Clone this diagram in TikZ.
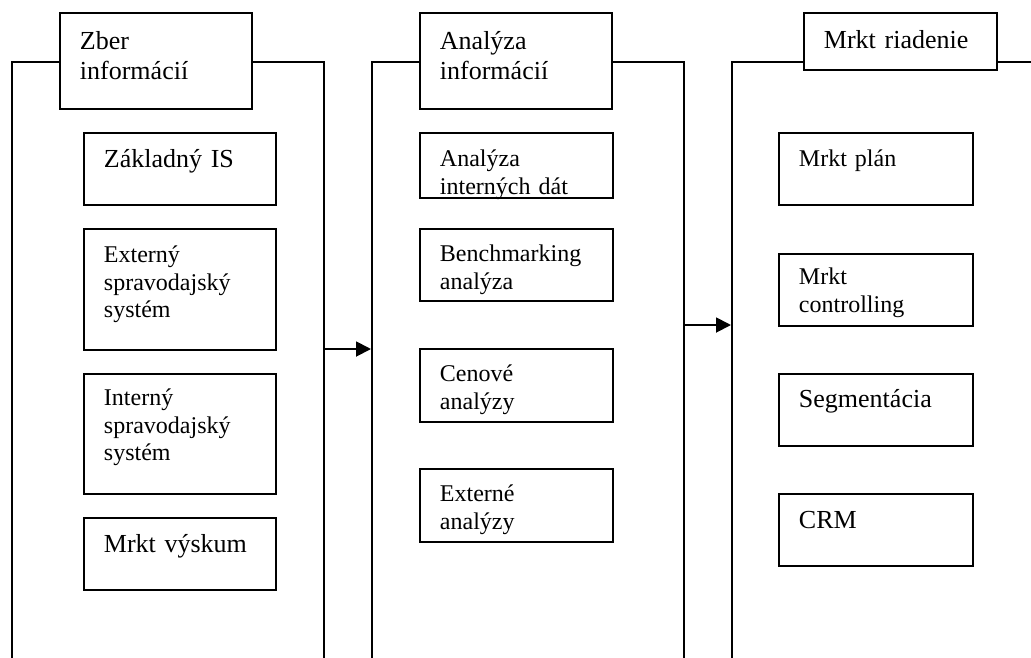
\documentclass[tikz,border=0pt]{standalone}
\usepackage{fontspec}
\setmainfont{Liberation Serif}
\usetikzlibrary{arrows.meta}

\newcommand\bigtxt{\fontsize{26}{30}\selectfont}
\newcommand\smtxt{\fontsize{24}{27.5}\selectfont}

\begin{document}
\begin{tikzpicture}[
  x = 1pt, y = -1pt,
  every node/.style = {line width = 1.9pt},
  frame/.style = {draw, anchor = north west, minimum width = 312pt, minimum height = 700pt, inner sep = 0pt},
  box/.style = {draw, fill = white, anchor = north west, inner xsep = 20pt, inner ysep = 0pt, align = left},
  cell/.style n args = {3}{text width = #1, text height = #2, text depth = #3},
  flow/.style = {draw, line width = 1.9pt, -{Triangle[length = 15pt, width = 15pt]}},
  ]
  \useasboundingbox (0,0) rectangle (1031,657);
  \clip (0,0) rectangle (1031,657);

  % three stages
  \node [frame] (fr1) at (11,61)  {};
  \node [frame] (fr2) at (371,61) {};
  \node [frame, minimum width = 400pt] (fr3) at (731,61) {};

  \node [box, cell = {152pt}{37pt}{59pt}, font = \bigtxt] (zber) at (59,12)  {Zber\\informácií};
  \node [box, cell = {152pt}{37pt}{59pt}, font = \bigtxt] (anal) at (419,12) {Analýza\\informácií};
  \node [box, cell = {153pt}{36pt}{21pt}, font = \bigtxt] (riad) at (803,12) {Mrkt riadenie};

  % collecting
  \node [box, cell = {152pt}{35pt}{37pt}, font = \bigtxt] (zis) at (83,132) {Základný IS};
  \node [box, cell = {152pt}{34pt}{87pt}, font = \smtxt]  (ess) at (83,228) {Externý\\spravodajský\\systém};
  \node [box, cell = {152pt}{32pt}{88pt}, font = \smtxt]  (iss) at (83,373) {Interný\\spravodajský\\systém};
  \node [box, cell = {152pt}{35pt}{37pt}, font = \bigtxt] (vysk) at (83,517) {Mrkt výskum};

  % analysis
  \node [box, cell = {153pt}{34pt}{31pt}, font = \smtxt] (intd) at (419,132) {Analýza\\interných dát};
  \node [box, cell = {153pt}{33pt}{39pt}, font = \smtxt] (bench) at (419,228) {Benchmarking\\analýza};
  \node [box, cell = {153pt}{33pt}{40pt}, font = \smtxt] (cen) at (419,348) {Cenové\\analýzy};
  \node [box, cell = {153pt}{33pt}{40pt}, font = \smtxt] (exta) at (419,468) {Externé\\analýzy};

  % management
  \node [box, cell = {154pt}{34pt}{38pt}, font = \smtxt]  (plan) at (778,132) {Mrkt plán};
  \node [box, cell = {154pt}{31pt}{41pt}, font = \smtxt]  (ctrl) at (778,253) {Mrkt\\controlling};
  \node [box, cell = {154pt}{34pt}{38pt}, font = \bigtxt] (seg) at (778,373) {Segmentácia};
  \node [box, cell = {154pt}{35pt}{37pt}, font = \bigtxt] (crm) at (778,493) {CRM};

  \draw [flow] ([yshift=-288pt]fr1.north east) -- ([yshift=-288pt]fr2.north west);
  \draw [flow] ([yshift=-264pt]fr2.north east) -- ([yshift=-264pt]fr3.north west);
\end{tikzpicture}
\end{document}
